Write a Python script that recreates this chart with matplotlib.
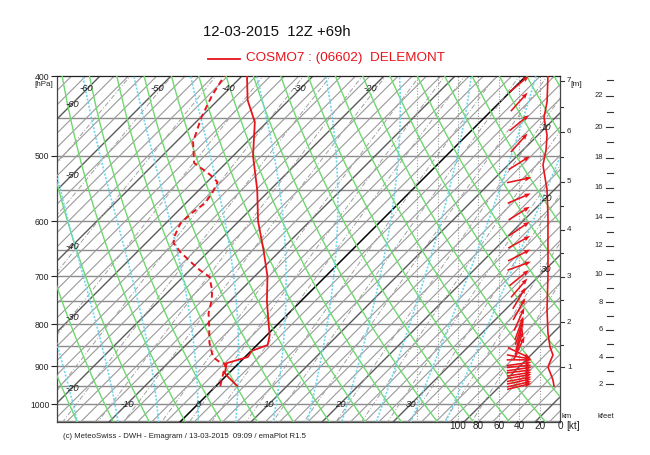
import numpy as np
import matplotlib
matplotlib.use('Agg')
import matplotlib.pyplot as plt

plt.rcParams['font.family'] = ['Liberation Sans', 'DejaVu Sans']

# ---------------- data ----------------
title = "12-03-2015  12Z +69h"
station = "COSMO7 : (06602)  DELEMONT"
footer = "(c) MeteoSwiss - DWH - Emagram / 13-03-2015  09:09 / emaPlot R1.5"

p_temp = [951, 927, 917, 892, 877, 862, 848, 825, 800, 750, 700, 650, 600, 550, 500, 455, 428, 400]
temp = [3.0, 0.4, -0.6, -1.7, 0.4, 0.1, 1.5, 0.4, -1.3, -4.8, -8.2, -12.5, -17.3, -21.8, -27.2, -31.7, -35.8, -39.3]

p_dew = [951, 917, 894, 890, 877, 843, 806, 776, 748, 727, 701, 688, 672, 654, 638, 627, 604, 587,
         571, 555, 538, 527, 510, 481, 449, 422, 400]
dew = [0.6, -0.8, -1.8, -2.8, -4.5, -7.0, -9.3, -11.3, -12.7, -14.1, -16.3, -18.6, -21.1, -23.9, -26.1,
       -26.9, -27.9, -27.8, -27.3, -27.7, -28.5, -30.6, -34.5, -37.6, -39.9, -41.5, -42.5]

p_speed = [400, 430, 449, 472, 492, 513, 550, 591, 641, 698, 769, 820, 853, 872, 889, 902, 915, 935, 951]
speed = [11.8, 12.7, 15.7, 12.7, 13.7, 16.7, 12.7, 11.8, 11.8, 11.8, 12.7, 11.8, 9.8, 6.9, 9.8, 11.8, 9.8, 6.9, 5.9]

p_wind = [409, 430, 456, 482, 510, 535, 563, 587, 613, 636, 660, 680, 703, 723, 744, 767, 789, 809,
          820, 832, 843, 855, 867, 877, 884, 894, 900, 907, 913, 920, 926, 933, 939, 946, 952]
wind_dir = [230, 222, 231, 222, 238, 258, 247, 238, 236, 241, 243, 250, 231, 221, 211, 209, 204, 200,
            198, 195, 198, 205, 295, 280, 270, 262, 264, 262, 263, 261, 260, 259, 258, 257, 256]

sfc_height = 575.0  # m, model surface
pressure_ticks = [400, 500, 600, 700, 800, 900, 1000]
speed_ticks = [100, 80, 60, 40, 20, 0]
km_ticks = [1, 2, 3, 4, 5, 6, 7]
kft_ticks = [2, 4, 6, 8, 10, 12, 14, 16, 18, 20, 22]

# ---------------- geometry ----------------
W, H = 650, 455
fig = plt.figure(figsize=(W / 100, H / 100), dpi=100)
L, R, T, B = 57, 560, 76, 422
ax = fig.add_axes([L / W, (H - B) / H, (R - L) / W, (B - T) / H])
PX_PER_C = 7.1
PX_PER_LN = 358.0
K = PX_PER_LN / PX_PER_C
P_TOP = 400.0
P_BOT = 1000.0 * np.exp((B - 404) / PX_PER_LN)
X0 = (L - 198) / PX_PER_C
X1 = (R - 198) / PX_PER_C
ax.set_yscale('log')
ax.set_ylim(P_BOT, P_TOP)
ax.set_xlim(X0, X1)


def skx(t, p):
    return np.asarray(t) + K * np.log(1000.0 / np.asarray(p))


pp = np.geomspace(380, 1080, 200)

# pressure lines
for p in range(450, 1051, 50):
    ax.axhline(p, color='#8c8c8c', lw=1.0, zorder=1)

# isotherms
for t in range(-70, 60, 2):
    if t == 0:
        c, lw = '#000000', 1.1
    elif t % 10 == 0:
        c, lw = '#5a5a5a', 1.0
    else:
        c, lw = '#9a9a9a', 0.8
    ax.plot(skx(t, pp), pp, color=c, lw=lw, zorder=2)

# dry adiabats
for th in range(200, 420, 5):
    tt = th * (pp / 1000.0) ** 0.2857 - 273.15
    ax.plot(skx(tt, pp), pp, color='#6fd86f', lw=1.0, zorder=3)


# moist adiabats
def moist_profile(t0):
    Rd, Cp, Lv, eps = 287.04, 1005.7, 2.501e6, 0.622

    def dTdp(p, Tk):
        es = 6.112 * np.exp(17.67 * (Tk - 273.15) / (Tk - 29.65))
        rs = eps * es / (p - es)
        return (Rd * Tk + Lv * rs) / (Cp + Lv * Lv * rs * eps / (Rd * Tk * Tk)) / p

    out = {}
    for direction, pend in ((-1, 370.0), (1, 1090.0)):
        Tk = t0 + 273.15
        p = 1000.0
        ps, ts = [p], [Tk]
        h = 2.0 * direction
        while (p - pend) * direction < 0:
            k1 = dTdp(p, Tk)
            k2 = dTdp(p + h / 2, Tk + h / 2 * k1)
            k3 = dTdp(p + h / 2, Tk + h / 2 * k2)
            k4 = dTdp(p + h, Tk + h * k3)
            Tk = Tk + h / 6 * (k1 + 2 * k2 + 2 * k3 + k4)
            p = p + h
            ps.append(p)
            ts.append(Tk)
        out[direction] = (np.array(ps), np.array(ts) - 273.15)
    pa = np.concatenate([out[-1][0][::-1], out[1][0][1:]])
    ta = np.concatenate([out[-1][1][::-1], out[1][1][1:]])
    return pa, ta


for t0 in [-29.5, -23.5, -17.6, -11.7, -5.8, 0, 5.5, 11, 16, 21, 26, 31, 36]:
    pa, ta = moist_profile(t0)
    ax.plot(skx(ta, pa), pa, color='#6fd6ee', lw=1.2, ls=(0, (1.2, 1.0)), zorder=3)

# mixing ratio lines
for w in [0.05, 0.1, 0.2, 0.4, 0.7, 1, 1.5, 2, 3, 4, 5, 7, 9, 12, 16, 20, 25, 30, 40, 50]:
    e = w * pp / (622.0 + w)
    lg = np.log(e / 6.112)
    td = 243.5 * lg / (17.67 - lg)
    ax.plot(skx(td, pp), pp, color='#a0a0a0', lw=0.7, ls=(0, (5, 2, 1, 2)), zorder=2)


# wind speed grid
def spx(s):
    return X1 - np.asarray(s) * 1.02 / PX_PER_C


for s in range(20, 160, 20):
    ax.axvline(spx(s), color='#9a9a9a', lw=0.8, ls=(0, (1, 1.5)), zorder=2)

# temperature / dew point
ax.plot(skx(temp, p_temp), p_temp, color='#e8141c', lw=1.3, zorder=6)
ax.plot(skx(dew, p_dew), p_dew, color='#e8141c', lw=1.4, ls=(0, (3, 2)), zorder=6)

# wind speed profile
ax.plot(spx(speed), p_speed, color='#e8141c', lw=1.2, zorder=6)

# wind arrows
d = np.radians(wind_dir)
u = -np.sin(d) * 25
v = -np.cos(d) * 25
ax.quiver(np.full(len(p_wind), spx(40)), p_wind, u, v, angles='uv', scale_units='dots', scale=1,
          units='dots', width=1.6, headwidth=3.0, headlength=4.0, headaxislength=3.6,
          pivot='middle', color='#e8141c', zorder=7)

# isotherm labels
lab_kw = dict(fontsize=6.8, style='italic', color='#222222', ha='center', va='center', zorder=8)
p_top_lab = 1000.0 * np.exp(-(404 - 88) / PX_PER_LN)
for t in [-60, -50, -40, -30, -20]:
    ax.text(skx(t, p_top_lab) - 0.3, p_top_lab, str(t), **lab_kw)
X_left_lab = (72 - 198) / PX_PER_C
for t in [-60, -50, -40, -30, -20]:
    ax.text(X_left_lab, 1000.0 * np.exp(-(X_left_lab - t) / K), str(t), **lab_kw)
for t in [-10, 0, 10, 20, 30]:
    ax.text(t, 1000.0, str(t), **lab_kw)
X_right_lab = (546 - 198) / PX_PER_C
for t in [10, 20, 30]:
    ax.text(X_right_lab, 1000.0 * np.exp(-(X_right_lab - t) / K), str(t), **lab_kw)

# axes decorations
ax.set_yticks(pressure_ticks)
ax.set_yticklabels([str(p) for p in pressure_ticks], fontsize=6.2)
ax.yaxis.set_minor_locator(matplotlib.ticker.NullLocator())
ax.tick_params(axis='y', length=4, width=0.8, pad=1.5, colors='#222222')
ax.set_xticks([])
for sp in ax.spines.values():
    sp.set_linewidth(0.9)
    sp.set_color('#444444')
ax.spines['top'].set_color('#222222')

fig.text(53 / W, 1 - 85 / H, "[hPa]", fontsize=5.8, ha='right', va='center', color='#222222')

# speed labels
for s in speed_ticks:
    x_pix = 560 - 1.02 * s
    fig.text(x_pix / W, 1 - 426 / H, str(s), fontsize=7.2, ha='center', va='center', color='#222222')
fig.text(566 / W, 1 - 426 / H, "[kt]", fontsize=7.2, ha='left', va='center', color='#222222')

# height scales from hypsometric equation
lp = np.log(np.asarray(p_temp, float))
tk = np.asarray(temp) + 273.15
z = [sfc_height]
for i in range(1, len(p_temp)):
    z.append(z[-1] + 29.27 * 0.5 * (tk[i] + tk[i - 1]) * (lp[i - 1] - lp[i]))
z = np.array(z)


def p_of_z(h):
    return np.exp(np.interp(h, z, lp))


trans = ax.get_yaxis_transform()
ax_w = R - L
for k in np.arange(0.5, 7.01, 0.5):
    if k * 1000 < sfc_height:
        continue
    pk = p_of_z(k * 1000)
    ln = 4 if float(k).is_integer() else 2.5
    ax.plot([1, 1 + ln / ax_w], [pk, pk], transform=trans, color='#333333', lw=0.8, clip_on=False)
for k in km_ticks:
    ax.text(1 + 7 / ax_w, p_of_z(k * 1000), str(k), transform=trans, fontsize=5.8,
            ha='left', va='center', color='#222222', clip_on=False)
fig.text(576 / W, 1 - 84 / H, "[m]", fontsize=6, ha='center', va='center', color='#222222')

xk = (610 - L) / ax_w
for k in np.arange(1, 24, 1):
    if k * 304.8 < sfc_height:
        continue
    pk = p_of_z(k * 304.8)
    if pk < P_TOP or pk > P_BOT:
        continue
    a = 4 / ax_w if k % 2 == 0 else 3 / ax_w
    ax.plot([xk - a, xk + 3 / ax_w], [pk, pk], transform=trans, color='#333333', lw=0.8, clip_on=False)
for k in kft_ticks:
    ax.text(xk - 7 / ax_w, p_of_z(k * 304.8), str(k), transform=trans, fontsize=5.5,
            ha='right', va='center', color='#222222', clip_on=False)
fig.text(567 / W, 1 - 416 / H, "km", fontsize=5.5, ha='center', va='center', color='#222222')
fig.text(606 / W, 1 - 416 / H, "kfeet", fontsize=5.5, ha='center', va='center', color='#222222')

# title, legend, footer
fig.text(277 / W, 1 - 32 / H, title, fontsize=10.7, ha='center', va='center', color='#111111')
fig.add_artist(plt.Line2D([208 / W, 240 / W], [1 - 58.5 / H, 1 - 58.5 / H], color='#e8141c', lw=1.3))
fig.text(246 / W, 1 - 58 / H, station, fontsize=9.7, ha='left', va='center', color='#e8141c')
fig.text(63 / W, 1 - 437 / H, footer, fontsize=5.6, ha='left', va='center', color='#222222')

fig.savefig('out.png', dpi=100)
